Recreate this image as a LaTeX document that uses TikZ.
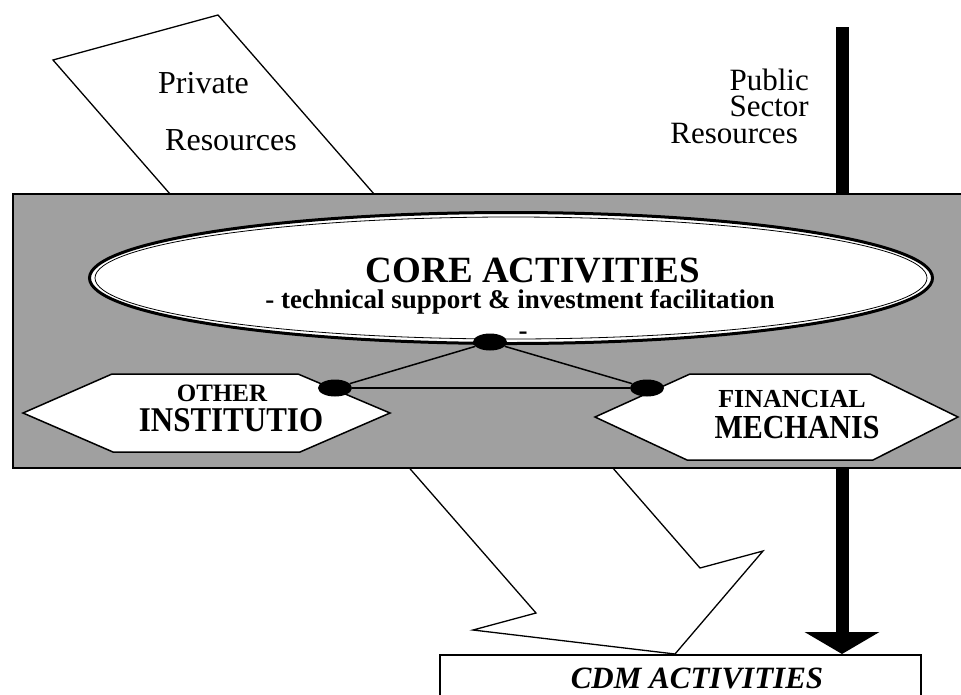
\documentclass[tikz,border=0pt]{standalone}
\usepackage{fontspec}
\setmainfont{Liberation Serif}
\usetikzlibrary{shapes.geometric,arrows.meta,positioning}
\definecolor{bandgray}{RGB}{160,160,160}

\begin{document}
\begin{tikzpicture}[
    x=1pt, y=-1pt,
    outline/.style={draw=black, line width=1.3pt, fill=white},
    hexbox/.style={draw=black, line width=1.5pt, fill=white},
    band/.style={rectangle, draw=black, line width=2pt, fill=bandgray, anchor=north west,
                 minimum width=980pt, minimum height=274pt},
    coreoval/.style={ellipse, draw=black, line width=3pt, fill=white, inner sep=0pt,
                     minimum width=843pt, minimum height=131pt},
    joint/.style={ellipse, fill=black, inner sep=0pt, minimum width=34pt, minimum height=17pt},
    link/.style={line width=1.5pt},
    bigarrow/.style={line width=13pt, -{Triangle[width=74pt, length=22pt]}},
    cdmbox/.style={rectangle, draw=black, line width=2pt, fill=white, anchor=north west,
                   minimum width=481pt, minimum height=80pt},
    txt/.style={inner sep=0pt, anchor=base},
    tight/.style={text depth=0pt, text height=#1},
    tight/.default=21pt
]
\useasboundingbox (0,0) rectangle (961,694);
\clip (0,0) rectangle (961,694);

\node[cdmbox] (cdm) at (439,654) {};
\draw[outline] (53,60) -- (218,15) -- (700,568) -- (763,551) -- (675,654) -- (473,630) -- (536,613) -- cycle;
\coordinate (pubtop) at (842,27);
\draw[bigarrow] (pubtop) -- (pubtop |- cdm.north);

\node[band] (band) at (12,193) {};
\node[coreoval] (core) at (511,278) {};
\draw[line width=0.8pt] (core.center) ellipse [x radius=416pt, y radius=61pt];

\draw[hexbox] (23,413) -- (112,374) -- (298,374) -- (390,413) -- (300,452) -- (113,452) -- cycle;
\draw[hexbox] (595,417) -- (690,374) -- (870,374) -- (958,417) -- (873,460) -- (687,460) -- cycle;

\node[joint] (jtop) at (490,342) {};
\node[joint] (jleft) at (335,388) {};
\node[joint] (jright) at (647,388) {};
\draw[link] (jtop) -- (jleft);
\draw[link] (jtop) -- (jright);
\draw[link] (jleft) -- (jright);

\node[txt, anchor=base west, font=\fontsize{32}{32}\selectfont] (priv1) at (158,93) {Private};
\node[txt, anchor=base west, font=\fontsize{32}{32}\selectfont] (priv2) at (165,150) {Resources};
\node[txt, tight, anchor=base east, font=\fontsize{31}{31}\selectfont] (pub1) at (809,90) {Public};
\node[txt, tight, anchor=base east, font=\fontsize{31}{31}\selectfont] (pub2) at (809,116) {Sector};
\node[txt, tight, anchor=base east, font=\fontsize{31}{31}\selectfont] (pub3) at (798,143) {Resources};

\node[txt, font=\bfseries\fontsize{37}{37}\selectfont] (coretitle) at (533,282) {CORE ACTIVITIES};
\node[txt, font=\bfseries\fontsize{27}{27}\selectfont] (coresub) at (520,308) {- technical support \& investment facilitation};
\node[txt, font=\bfseries\fontsize{27}{27}\selectfont] (coredash) at (523,339) {-};

\node[txt, tight=17pt, font=\bfseries\fontsize{25}{25}\selectfont] (other1) at (222,401) {OTHER};
\node[txt, tight=23pt, font=\bfseries\fontsize{31}{31}\selectfont] (other2) at (231,431) {\scalebox{1}[1.12]{INSTITUTIO}};
\node[txt, tight=17pt, font=\bfseries\fontsize{26}{26}\selectfont] (fin1) at (792,407) {FINANCIAL};
\node[txt, tight=22pt, font=\bfseries\fontsize{30}{30}\selectfont] (fin2) at (797,438) {\scalebox{1}[1.12]{MECHANIS}};

\node[txt, font=\bfseries\itshape\fontsize{31}{31}\selectfont] (cdmtext) at (697,688) {CDM ACTIVITIES};
\end{tikzpicture}
\end{document}
